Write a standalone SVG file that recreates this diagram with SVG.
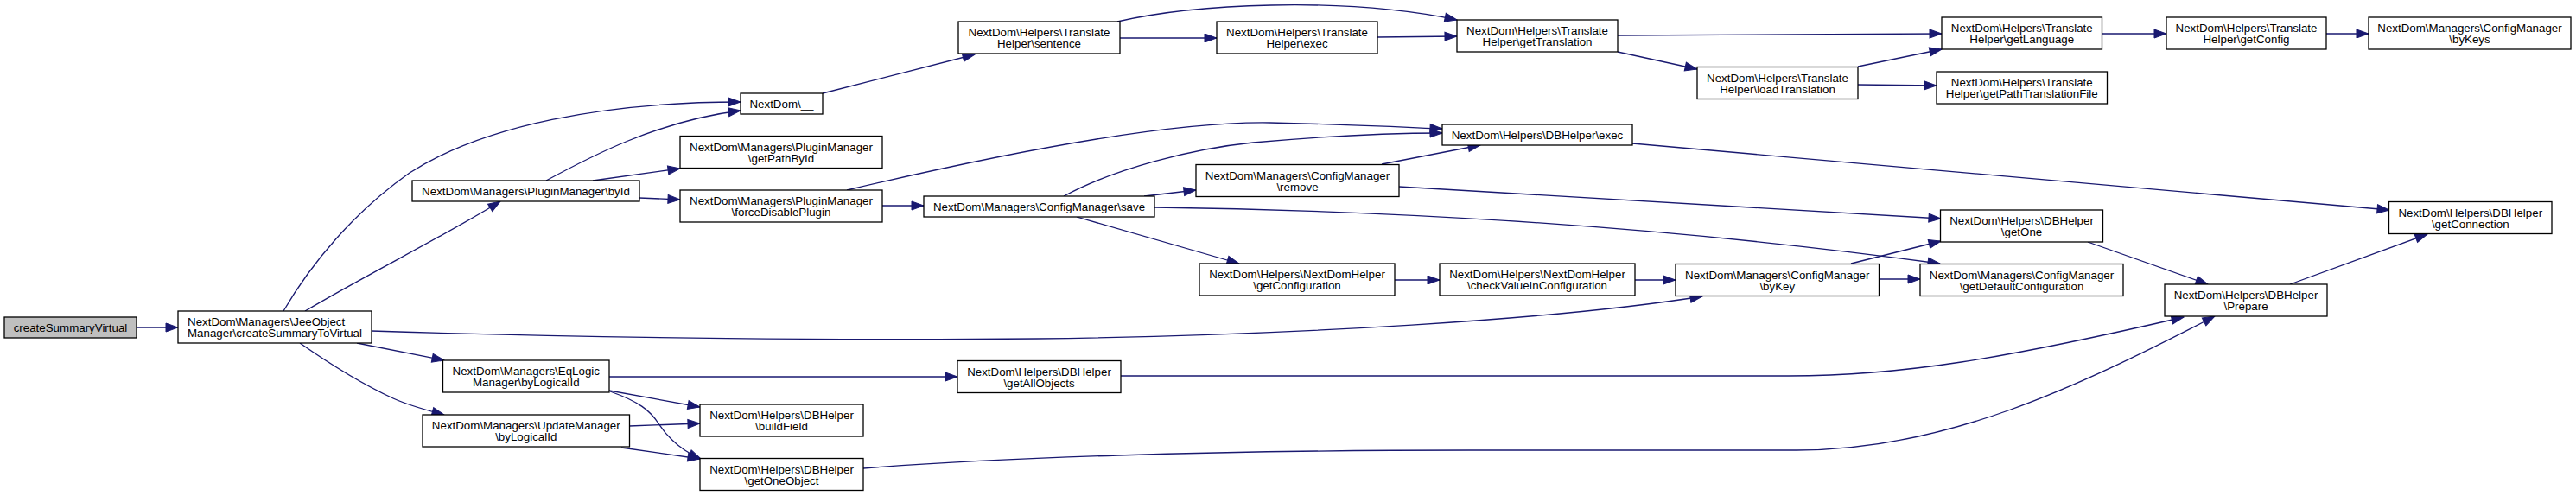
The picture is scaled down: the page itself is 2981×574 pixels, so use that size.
<svg xmlns="http://www.w3.org/2000/svg" width="2981" height="574" viewBox="0 0 2981 574">
<style>
.n rect{fill:#fff;stroke:#000;stroke-width:1.3}
.root rect{fill:#bfbfbf}
.n text{font-family:"Liberation Sans",Arial,Helvetica,sans-serif;font-size:13.33px;fill:#000;text-anchor:middle}
.n text.l{text-anchor:start}
.e path{fill:none;stroke:#191970;stroke-width:1.3}
</style>
<defs>
<marker id="a" markerUnits="userSpaceOnUse" markerWidth="16" markerHeight="12" refX="14" refY="5" orient="auto" overflow="visible">
<path d="M0,0 L14,5 L0,10 Z" fill="#191970" stroke="#191970" stroke-width="1"/>
</marker>
</defs>
<rect width="2981" height="574" fill="#fff"/>
<g class="e" marker-end="url(#a)">
<path d="M158,379 L206,379" marker-end="url(#a)"/>
<path d="M328,360 C360,305 410,245 474,200 C560,145 700,118 857,118" marker-end="url(#a)"/>
<path d="M353,360 C420,320 520,270 579,233" marker-end="url(#a)"/>
<path d="M430,383 C700,392 1000,394 1200,392 C1500,388 1800,370 1970,343" marker-end="url(#a)"/>
<path d="M413,397 L514,417" marker-end="url(#a)"/>
<path d="M347,397 C380,420 420,445 455,461 C475,470 495,475 514,480" marker-end="url(#a)"/>
<path d="M632,209 C680,183 760,140 857,128" marker-end="url(#a)"/>
<path d="M686,209 L787,195" marker-end="url(#a)"/>
<path d="M740,229 L787,231" marker-end="url(#a)"/>
<path d="M980,220 C1150,180 1350,140 1470,142 C1560,144 1620,147 1669,149" marker-end="url(#a)"/>
<path d="M1231,227 C1290,195 1380,172 1450,165 C1550,156 1620,154 1669,154" marker-end="url(#a)"/>
<path d="M1293,25 C1380,5 1550,-5 1686,23" marker-end="url(#a)"/>
<path d="M1296,44 L1408,44" marker-end="url(#a)"/>
<path d="M1594,43 L1686,42" marker-end="url(#a)"/>
<path d="M1872,41 L2247,39" marker-end="url(#a)"/>
<path d="M1872,60 L1964,80" marker-end="url(#a)"/>
<path d="M2150,77 L2247,57" marker-end="url(#a)"/>
<path d="M2150,98 L2241,99" marker-end="url(#a)"/>
<path d="M2432,39 L2507,39" marker-end="url(#a)"/>
<path d="M2692,39 L2741,39" marker-end="url(#a)"/>
<path d="M1889,166 L2765,243" marker-end="url(#a)"/>
<path d="M1619,216 L2246,253" marker-end="url(#a)"/>
<path d="M1336,240 C1650,244 1950,265 2245,305" marker-end="url(#a)"/>
<path d="M1324,227 L1384,220" marker-end="url(#a)"/>
<path d="M1246,251 L1434,305" marker-end="url(#a)"/>
<path d="M1021,238 L1069,238" marker-end="url(#a)"/>
<path d="M1614,324 L1666,324" marker-end="url(#a)"/>
<path d="M1892,324 L1939,324" marker-end="url(#a)"/>
<path d="M2174,323 L2222,323" marker-end="url(#a)"/>
<path d="M2142,305 L2246,279" marker-end="url(#a)"/>
<path d="M2416,280 L2555,329" marker-end="url(#a)"/>
<path d="M2650,329 L2809,271" marker-end="url(#a)"/>
<path d="M1297,435 L2070,435 C2200,435 2320,415 2527,367" marker-end="url(#a)"/>
<path d="M705,436 L1108,436" marker-end="url(#a)"/>
<path d="M705,452 L810,471" marker-end="url(#a)"/>
<path d="M706,453 C740,465 752,475 762,490 C775,510 790,522 811,531" marker-end="url(#a)"/>
<path d="M728,493 L810,490" marker-end="url(#a)"/>
<path d="M719,518 L810,531" marker-end="url(#a)"/>
<path d="M999,542 C1150,530 1400,521 1700,521 L2079,521 C2250,521 2400,450 2563,366" marker-end="url(#a)"/>
<path d="M952,108 L1128,63" marker-end="url(#a)"/>
<path d="M1599,190 L1713,168" marker-end="url(#a)"/>
</g>
<g id="n0" class="n root"><rect x="5" y="367" width="153" height="24"/><text x="81.5" y="384">createSummaryVirtual</text></g>
<g id="n1" class="n"><rect x="206" y="360" width="224" height="37"/><text class="l" x="217" y="377">NextDom\Managers\JeeObject</text><text class="l" x="217" y="390">Manager\createSummaryToVirtual</text></g>
<g id="n2" class="n"><rect x="857" y="108" width="95" height="24"/><text x="904.5" y="125">NextDom\__</text></g>
<g id="n3" class="n"><rect x="787" y="157.5" width="234" height="37"/><text x="904" y="174.5">NextDom\Managers\PluginManager</text><text x="904" y="187.5">\getPathById</text></g>
<g id="n4" class="n"><rect x="477" y="209" width="263" height="24"/><text x="608.5" y="226">NextDom\Managers\PluginManager\byId</text></g>
<g id="n5" class="n"><rect x="787" y="220" width="234" height="37"/><text x="904" y="237">NextDom\Managers\PluginManager</text><text x="904" y="250">\forceDisablePlugin</text></g>
<g id="n6" class="n"><rect x="1109" y="25" width="187" height="37"/><text x="1202.5" y="42">NextDom\Helpers\Translate</text><text x="1202.5" y="55">Helper\sentence</text></g>
<g id="n7" class="n"><rect x="1408" y="25" width="186" height="37"/><text x="1501" y="42">NextDom\Helpers\Translate</text><text x="1501" y="55">Helper\exec</text></g>
<g id="n8" class="n"><rect x="1686" y="23" width="186" height="37"/><text x="1779" y="40">NextDom\Helpers\Translate</text><text x="1779" y="53">Helper\getTranslation</text></g>
<g id="n9" class="n"><rect x="1669" y="144" width="220" height="24"/><text x="1779" y="161">NextDom\Helpers\DBHelper\exec</text></g>
<g id="n10" class="n"><rect x="1384" y="190.5" width="235" height="37"/><text x="1501.5" y="207.5">NextDom\Managers\ConfigManager</text><text x="1501.5" y="220.5">\remove</text></g>
<g id="n11" class="n"><rect x="1069" y="227" width="267" height="24"/><text x="1202.5" y="244">NextDom\Managers\ConfigManager\save</text></g>
<g id="n12" class="n"><rect x="2247" y="20" width="185.5" height="37"/><text x="2339.75" y="37">NextDom\Helpers\Translate</text><text x="2339.75" y="50">Helper\getLanguage</text></g>
<g id="n13" class="n"><rect x="1964" y="77.5" width="186" height="37"/><text x="2057" y="94.5">NextDom\Helpers\Translate</text><text x="2057" y="107.5">Helper\loadTranslation</text></g>
<g id="n14" class="n"><rect x="2241" y="83" width="197.5" height="37"/><text x="2339.75" y="100">NextDom\Helpers\Translate</text><text x="2339.75" y="113">Helper\getPathTranslationFile</text></g>
<g id="n15" class="n"><rect x="2507" y="20" width="185" height="37"/><text x="2599.5" y="37">NextDom\Helpers\Translate</text><text x="2599.5" y="50">Helper\getConfig</text></g>
<g id="n16" class="n"><rect x="2741" y="20" width="234" height="37"/><text x="2858" y="37">NextDom\Managers\ConfigManager</text><text x="2858" y="50">\byKeys</text></g>
<g id="n17" class="n"><rect x="2764.5" y="233.5" width="188.5" height="37"/><text x="2858.75" y="250.5">NextDom\Helpers\DBHelper</text><text x="2858.75" y="263.5">\getConnection</text></g>
<g id="n18" class="n"><rect x="2245.5" y="243" width="188" height="37"/><text x="2339.5" y="260">NextDom\Helpers\DBHelper</text><text x="2339.5" y="273">\getOne</text></g>
<g id="n19" class="n"><rect x="2222" y="305.5" width="235" height="37"/><text x="2339.5" y="322.5">NextDom\Managers\ConfigManager</text><text x="2339.5" y="335.5">\getDefaultConfiguration</text></g>
<g id="n20" class="n"><rect x="2505" y="329" width="188" height="37"/><text x="2599" y="346">NextDom\Helpers\DBHelper</text><text x="2599" y="359">\Prepare</text></g>
<g id="n21" class="n"><rect x="1388" y="305" width="226" height="37"/><text x="1501" y="322">NextDom\Helpers\NextDomHelper</text><text x="1501" y="335">\getConfiguration</text></g>
<g id="n22" class="n"><rect x="1666" y="305" width="226" height="37"/><text x="1779" y="322">NextDom\Helpers\NextDomHelper</text><text x="1779" y="335">\checkValueInConfiguration</text></g>
<g id="n23" class="n"><rect x="1939" y="305.5" width="235.5" height="37"/><text x="2056.75" y="322.5">NextDom\Managers\ConfigManager</text><text x="2056.75" y="335.5">\byKey</text></g>
<g id="n24" class="n"><rect x="1108" y="417.5" width="189" height="37"/><text x="1202.5" y="434.5">NextDom\Helpers\DBHelper</text><text x="1202.5" y="447.5">\getAllObjects</text></g>
<g id="n25" class="n"><rect x="512.5" y="417" width="192.5" height="37"/><text x="608.75" y="434">NextDom\Managers\EqLogic</text><text x="608.75" y="447">Manager\byLogicalId</text></g>
<g id="n26" class="n"><rect x="489" y="480" width="239.5" height="37"/><text x="608.75" y="497">NextDom\Managers\UpdateManager</text><text x="608.75" y="510">\byLogicalId</text></g>
<g id="n27" class="n"><rect x="810" y="468" width="189" height="37"/><text x="904.5" y="485">NextDom\Helpers\DBHelper</text><text x="904.5" y="498">\buildField</text></g>
<g id="n28" class="n"><rect x="810" y="530.5" width="189" height="37"/><text x="904.5" y="547.5">NextDom\Helpers\DBHelper</text><text x="904.5" y="560.5">\getOneObject</text></g>
</svg>
